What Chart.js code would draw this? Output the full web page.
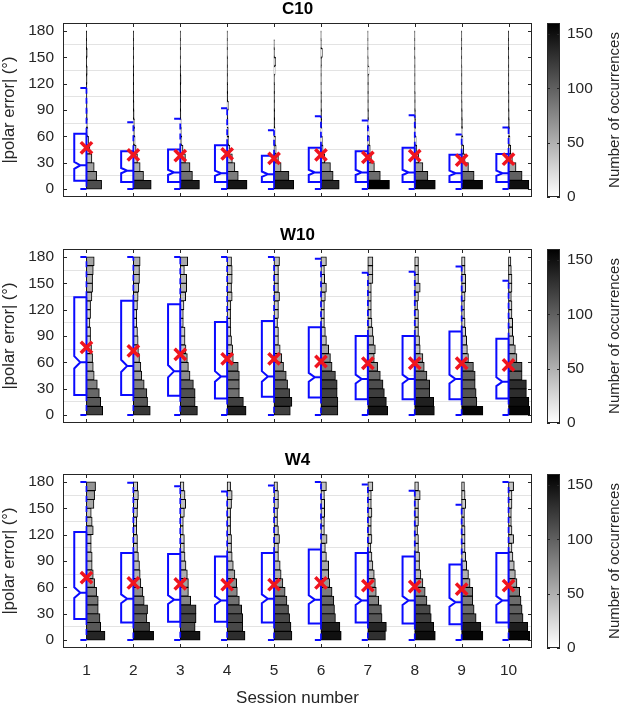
<!DOCTYPE html>
<html>
<head>
<meta charset="utf-8">
<script src="https://cdn.jsdelivr.net/npm/chart.js@4.4.1/dist/chart.umd.min.js"></script>
<style>
  html, body { margin: 0; padding: 0; background: #fff; }
  #wrap { position: relative; width: 619px; height: 704px; overflow: hidden; }
  #wrap canvas { position: absolute; }
  .cblabel {
    position: absolute; left: 613px; white-space: nowrap;
    font: 15px "Liberation Sans", Arial, sans-serif; color: #262626;
    transform: translate(-50%, -50%) rotate(-90deg);
  }
</style>
</head>
<body>
<div id="wrap">
  <canvas id="p1" width="595" height="221" style="left:0;top:0"></canvas>
  <canvas id="p2" width="595" height="221" style="left:0;top:226px"></canvas>
  <canvas id="p3" width="595" height="253" style="left:0;top:451px"></canvas>
  <canvas id="cb1" width="89" height="221" style="left:530px;top:0"></canvas>
  <canvas id="cb2" width="89" height="221" style="left:530px;top:226px"></canvas>
  <canvas id="cb3" width="89" height="253" style="left:530px;top:451px"></canvas>
  <div class="cblabel" style="top:110px">Number of occurrences</div>
  <div class="cblabel" style="top:336px">Number of occurrences</div>
  <div class="cblabel" style="top:561px">Number of occurrences</div>
</div>
<script>
// sesiones y bins del histograma (10 grados)
const sessions = [1, 2, 3, 4, 5, 6, 7, 8, 9, 10]
const binLow = [0, 10, 20, 30, 40, 50, 60, 70, 80, 90, 100, 110, 120, 130, 140, 150, 160, 170]
const yTicks = [0, 30, 60, 90, 120, 150, 180]
const cbTicks = [0, 50, 100, 150]
const cbMax = 160

// C10
const c10Counts = [
  [112, 75, 57, 40, 25, 15, 10, 7, 5, 4, 3, 3, 4, 5, 2, 5, 1, 1],
  [132, 75, 50, 30, 20, 12, 9, 8, 5, 4, 3, 2, 2, 2, 1, 1, 1, 1],
  [142, 90, 72, 38, 20, 11, 8, 6, 4, 3, 3, 3, 5, 2, 1, 1, 1, 1],
  [147, 82, 57, 38, 20, 11, 8, 6, 5, 9, 4, 3, 2, 2, 2, 1, 1, 1],
  [145, 110, 52, 32, 15, 10, 7, 5, 4, 3, 3, 3, 2, 7, 11, 2, 1, 0],
  [135, 90, 70, 28, 15, 10, 7, 5, 4, 3, 3, 2, 2, 2, 3, 10, 2, 1],
  [160, 92, 48, 26, 17, 11, 8, 6, 4, 3, 3, 3, 3, 8, 2, 1, 1, 1],
  [152, 97, 60, 28, 15, 10, 7, 5, 4, 3, 3, 2, 2, 2, 2, 1, 1, 1],
  [155, 92, 50, 25, 14, 9, 6, 5, 4, 3, 2, 2, 2, 2, 1, 1, 1, 1],
  [150, 100, 55, 28, 16, 10, 7, 5, 4, 3, 3, 2, 2, 2, 2, 1, 1, 1]
]
const c10Q1 = [9.5, 8, 8, 8, 8, 8, 8, 8, 8, 8]
const c10Median = [27, 21, 19, 18, 17, 19, 19, 19, 18, 18]
const c10Q3 = [63, 43, 45, 50, 38, 47, 43, 47, 39, 40]
const c10Upper = [115, 76, 80, 92, 67, 83, 78, 84, 62, 70]
const c10Lower = [0, 0, 0, 0, 0, 0, 0, 0, 0, 0]
const c10Notch = [4, 3, 3, 3, 3, 3, 3, 3, 3, 3]
const c10Mean = [47, 39, 38, 40, 35, 39, 36, 38, 33, 34]

// W10
const w10Counts = [
  [120, 105, 95, 80, 57, 50, 45, 37, 30, 30, 25, 30, 30, 40, 45, 45, 50, 57],
  [125, 105, 100, 80, 62, 55, 45, 37, 35, 30, 25, 25, 30, 35, 40, 45, 45, 50],
  [127, 110, 110, 97, 72, 60, 52, 42, 35, 35, 22, 22, 27, 40, 47, 47, 30, 55],
  [140, 120, 90, 90, 90, 82, 45, 40, 32, 27, 25, 25, 27, 37, 32, 37, 37, 32],
  [120, 132, 115, 100, 90, 70, 57, 45, 32, 32, 25, 32, 32, 40, 32, 32, 32, 40],
  [125, 125, 120, 120, 107, 82, 70, 57, 40, 32, 25, 25, 25, 32, 40, 27, 25, 40],
  [147, 137, 122, 112, 92, 72, 47, 55, 42, 37, 30, 25, 25, 25, 25, 37, 37, 37],
  [145, 140, 110, 110, 90, 70, 60, 40, 35, 27, 27, 27, 20, 27, 40, 27, 27, 27],
  [157, 112, 107, 100, 100, 87, 50, 42, 37, 30, 25, 20, 20, 25, 30, 30, 25, 25],
  [157, 150, 132, 132, 100, 100, 62, 50, 37, 30, 30, 25, 25, 20, 25, 25, 20, 17]
]
const w10Q1 = [23, 23, 22, 19, 21, 20, 18, 18, 18, 19]
const w10Median = [60, 56, 50, 44, 44, 43, 41, 41, 41, 38]
const w10Q3 = [134, 130, 126, 106, 107, 100, 90, 90, 95, 87]
const w10Upper = [180, 180, 180, 180, 180, 178, 162, 163, 169, 153]
const w10Lower = [0, 0, 0, 0, 0, 0, 0, 0, 0, 0]
const w10Notch = [7, 7, 7, 6, 6, 5, 5, 5, 5, 5]
const w10Mean = [77, 73, 69, 64, 64, 61, 59, 59, 59, 57]

// W4
const w4Counts = [
  [137, 105, 100, 87, 87, 75, 60, 50, 42, 42, 35, 35, 50, 42, 35, 55, 60, 67],
  [150, 120, 100, 105, 80, 70, 55, 50, 45, 37, 30, 30, 25, 25, 30, 32, 37, 32],
  [147, 110, 117, 117, 77, 60, 60, 52, 42, 35, 30, 30, 22, 22, 30, 40, 35, 27],
  [132, 115, 115, 107, 90, 75, 70, 57, 45, 37, 32, 32, 25, 25, 25, 32, 37, 25],
  [132, 125, 115, 107, 95, 82, 65, 52, 45, 32, 32, 40, 32, 25, 25, 32, 32, 25],
  [150, 140, 107, 100, 95, 82, 65, 57, 57, 40, 32, 45, 25, 25, 27, 27, 25, 40],
  [130, 137, 105, 100, 80, 62, 55, 47, 37, 30, 22, 30, 25, 25, 30, 25, 25, 37],
  [152, 140, 122, 115, 90, 77, 60, 45, 35, 35, 27, 27, 20, 27, 27, 27, 40, 27],
  [157, 142, 107, 92, 82, 82, 62, 50, 37, 30, 25, 25, 25, 20, 20, 30, 25, 20],
  [157, 142, 107, 100, 92, 82, 62, 50, 42, 32, 25, 37, 25, 20, 20, 25, 25, 37]
]
const w4Q1 = [24, 20, 21, 21, 20, 19, 20, 19, 18, 20]
const w4Median = [54, 47, 46, 45, 47, 46, 45, 45, 43, 45]
const w4Q3 = [123, 99, 98, 95, 99, 103, 99, 95, 86, 99]
const w4Upper = [180, 179, 175, 169, 176, 180, 177, 170, 154, 180]
const w4Lower = [0, 0, 0, 0, 0, 0, 0, 0, 0, 0]
const w4Notch = [6, 5, 5, 5, 5, 5, 5, 5, 5, 5]
const w4Mean = [71, 65, 64, 63, 63, 65, 62, 61, 58, 62]

const FUENTE = '"Liberation Sans", Arial, Helvetica, sans-serif'
Chart.defaults.font.family = FUENTE
Chart.defaults.color = '#262626'

const anchoPorCuenta = 0.46 / cbMax   // ancho de barra en unidades de sesion
const anchoCaja = 0.26
const anchoMuesca = 0.13
const anchoTope = 0.13
const AZUL = '#0a0aff'
const ROJO = '#f0141e'

function gris(c){
	// barras muy finas: solo se ve el borde negro, como en matlab
	if(c < 6) return "#000"
	var g = Math.round(255 * (1 - Math.min(c, cbMax) / cbMax))
	return "rgb(" + g + "," + g + "," + g + ")"
}

// marco con ticks hacia adentro, como en matlab
const marco = {
	id: "marco",
	afterDatasetsDraw(chart){
		const {ctx, chartArea: a, scales} = chart
		const esPanel = scales.x.type === "linear"
		ctx.save()
		ctx.strokeStyle = "#262626"
		ctx.lineWidth = 1
		ctx.strokeRect(a.left + 0.5, a.top + 0.5, a.width - 1, a.height - 1)
		ctx.beginPath()
		if(esPanel){
			scales.x.ticks.forEach(t => {
				const px = Math.round(scales.x.getPixelForValue(t.value)) + 0.5
				ctx.moveTo(px, a.bottom); ctx.lineTo(px, a.bottom - 4)
				ctx.moveTo(px, a.top); ctx.lineTo(px, a.top + 4)
			})
		}
		const tl = esPanel ? 4 : 3
		scales.y.ticks.forEach(t => {
			const py = Math.round(scales.y.getPixelForValue(t.value)) + 0.5
			ctx.moveTo(a.left, py); ctx.lineTo(a.left + tl, py)
			ctx.moveTo(a.right, py); ctx.lineTo(a.right - tl, py)
		})
		ctx.stroke()
		ctx.restore()
	}
}

function crearPanel(id, titulo, counts, q1, mediana, q3, sup, inf, muesca, media, conX){
	const datasets = []

	sessions.forEach((s, i) => {
		datasets.push({
			type: "bar",
			indexAxis: "y",
			order: 3,
			data: binLow.map((b, k) => ({y: b + 5, x: [s, s + counts[i][k] * anchoPorCuenta]})),
			backgroundColor: counts[i].map(gris),
			borderColor: "#000",
			borderWidth: 1,
			borderSkipped: false,
			inflateAmount: 0.4,
			grouped: false,
			barPercentage: 1,
			categoryPercentage: 1
		})
	})

	const cajas = []
	const bigotes = []
	const corte = {x: null, y: null}
	sessions.forEach((s, i) => {
		cajas.push(
			{x: s, y: q3[i]}, {x: s - anchoCaja, y: q3[i]},
			{x: s - anchoCaja, y: mediana[i] + muesca[i]}, {x: s - anchoMuesca, y: mediana[i]},
			{x: s, y: mediana[i]}, {x: s - anchoMuesca, y: mediana[i]},
			{x: s - anchoCaja, y: mediana[i] - muesca[i]}, {x: s - anchoCaja, y: q1[i]},
			{x: s, y: q1[i]}, {x: s, y: q3[i]}, corte,
			{x: s - anchoTope, y: sup[i]}, {x: s, y: sup[i]}, corte,
			{x: s - anchoTope, y: inf[i]}, {x: s, y: inf[i]}, corte
		)
		bigotes.push(
			{x: s, y: q3[i]}, {x: s, y: sup[i]}, corte,
			{x: s, y: q1[i]}, {x: s, y: inf[i]}, corte
		)
	})

	datasets.push({
		type: "line", order: 2, data: bigotes,
		borderColor: AZUL, borderWidth: 1.7, borderDash: [6, 4],
		pointRadius: 0, tension: 0, fill: false, spanGaps: false
	})
	datasets.push({
		type: "line", order: 2, data: cajas,
		borderColor: AZUL, borderWidth: 2, borderJoinStyle: "miter",
		pointRadius: 0, tension: 0, fill: false, spanGaps: false
	})
	datasets.push({
		type: "scatter", order: 1,
		data: sessions.map((s, i) => ({x: s, y: media[i]})),
		pointStyle: "crossRot", pointRadius: 8, borderWidth: 3.5,
		borderColor: ROJO, backgroundColor: ROJO
	})

	return new Chart(document.getElementById(id), {
		type: "bar",
		data: {datasets: datasets},
		options: {
			responsive: false,
			animation: false,
			devicePixelRatio: 1,
			layout: {padding: 0},
			plugins: {
				legend: {display: false},
				tooltip: {enabled: false},
				title: {
					display: true, text: titulo, color: "#000",
					font: {size: 17, weight: "bold", lineHeight: 1},
					padding: {top: 0.5, bottom: 5.5}
				}
			},
			scales: {
				x: {
					type: "linear", min: 0.5, max: 10.5, offset: false,
					afterBuildTicks: sc => { sc.ticks = sessions.map(v => ({value: v})) },
					afterFit: sc => { sc.height = conX ? 56 : 24 },
					grid: {display: false, offset: false},
					border: {display: false},
					ticks: {display: conX, font: {size: 15.5}, padding: 5, maxRotation: 0, callback: v => v},
					title: {display: conX, text: "Session number", font: {size: 17, lineHeight: 0.7}, padding: 0}
				},
				y: {
					type: "linear", min: -9, max: 189, offset: false,
					afterBuildTicks: sc => { sc.ticks = yTicks.map(v => ({value: v})) },
					afterFit: sc => { sc.width = 63 },
					grid: {color: "#e3e3e3", lineWidth: 1, drawTicks: false},
					border: {display: false},
					ticks: {font: {size: 15.5}, padding: 9},
					title: {display: true, text: "|polar error| (°)", font: {size: 16.5, lineHeight: 1.2}, padding: 0}
				},
				yr: {
					type: "linear", position: "right", min: 0, max: 1,
					afterFit: sc => { sc.width = 63 },
					grid: {display: false}, border: {display: false}, ticks: {display: false}
				}
			}
		},
		plugins: [marco]
	})
}

function crearBarraColor(id, alto){
	return new Chart(document.getElementById(id), {
		type: "bar",
		data: {
			labels: [""],
			datasets: [{
				data: [[0, cbMax]],
				borderWidth: 0,
				barPercentage: 1,
				categoryPercentage: 1,
				backgroundColor: ctx => {
					const chart = ctx.chart
					if(!chart.chartArea) return "#888"
					const ys = chart.scales.y
					const g = chart.ctx.createLinearGradient(0, ys.getPixelForValue(0), 0, ys.getPixelForValue(cbMax))
					g.addColorStop(0, "#ffffff")
					g.addColorStop(1, "#000000")
					return g
				}
			}]
		},
		options: {
			responsive: false,
			animation: false,
			devicePixelRatio: 1,
			layout: {padding: {left: 17, top: 23, right: 0, bottom: alto - 23 - 174}},
			plugins: {legend: {display: false}, tooltip: {enabled: false}},
			scales: {
				x: {display: false},
				y: {
					position: "right", min: 0, max: cbMax,
					afterBuildTicks: sc => { sc.ticks = cbTicks.map(v => ({value: v})) },
					afterFit: sc => { sc.width = 59 },
					grid: {display: false, drawTicks: false},
					border: {display: false},
					ticks: {font: {size: 15.5}, padding: 7}
				}
			}
		},
		plugins: [marco]
	})
}

crearPanel("p1", "C10", c10Counts, c10Q1, c10Median, c10Q3, c10Upper, c10Lower, c10Notch, c10Mean, false)
crearPanel("p2", "W10", w10Counts, w10Q1, w10Median, w10Q3, w10Upper, w10Lower, w10Notch, w10Mean, false)
crearPanel("p3", "W4", w4Counts, w4Q1, w4Median, w4Q3, w4Upper, w4Lower, w4Notch, w4Mean, true)
crearBarraColor("cb1", 221)
crearBarraColor("cb2", 221)
crearBarraColor("cb3", 253)
</script>
</body>
</html>
